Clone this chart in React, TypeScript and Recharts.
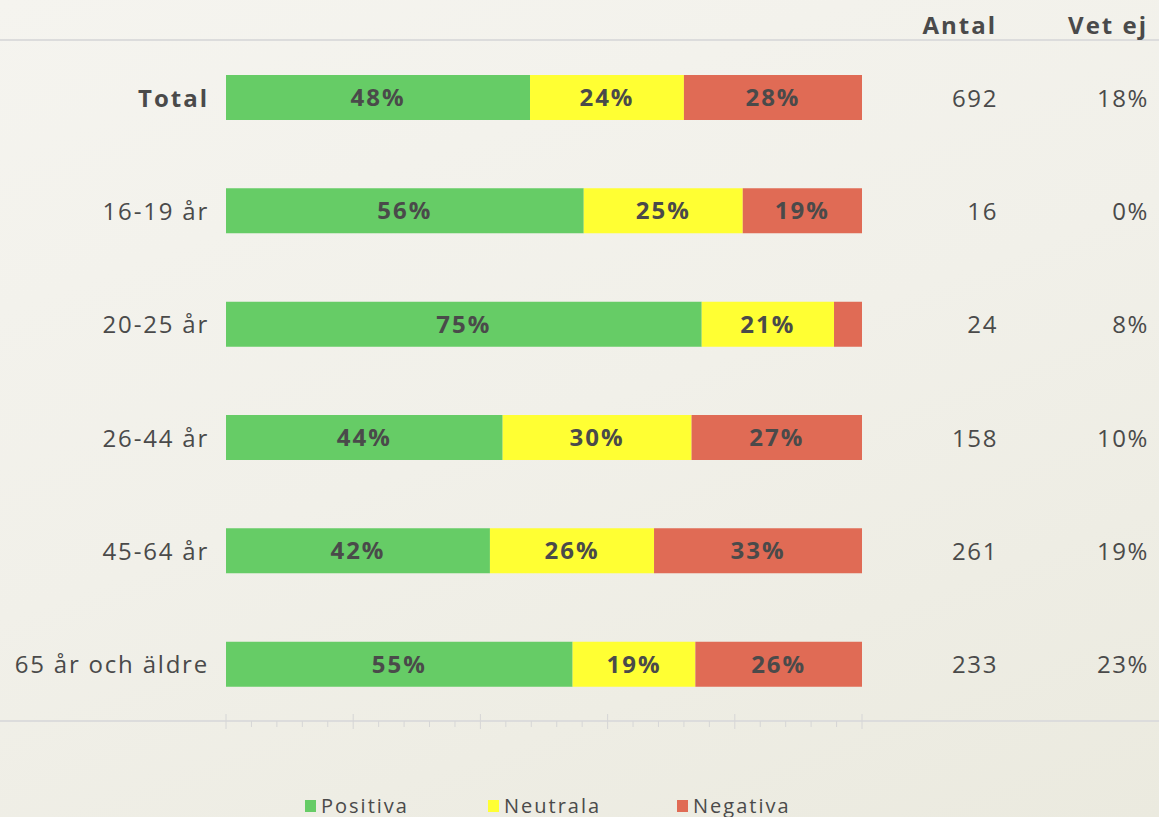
import { BarChart, Bar, XAxis, YAxis, LabelList } from 'recharts'

const CATEGORIES = ['Total', '16-19 år', '20-25 år', '26-44 år', '45-64 år', '65 år och äldre']
const POSITIVA = [47.8, 56.25, 74.8, 43.5, 41.5, 54.5]
const NEUTRALA = [24.2, 25, 20.8, 29.7, 25.8, 19.3]
const NEGATIVA = [28, 18.75, 4.4, 26.8, 32.7, 26.2]
const ANTAL = [692, 16, 24, 158, 261, 233]
const VET_EJ = ['18%', '0%', '8%', '10%', '19%', '23%']
const X_TICKS = Array.from({ length: 26 }, (_, i) => i * 4)

const SERIES = [
  { key: 'positiva', name: 'Positiva', color: '#66cc66' },
  { key: 'neutrala', name: 'Neutrala', color: '#ffff33' },
  { key: 'negativa', name: 'Negativa', color: '#e06b55' },
]

const TEXT = '#4a4a4a'
const FONT = '"Open Sans", sans-serif'

const data = CATEGORIES.map((name, i) => ({
  name,
  positiva: POSITIVA[i],
  neutrala: NEUTRALA[i],
  negativa: NEGATIVA[i],
  antal: ANTAL[i],
  vetEj: VET_EJ[i],
}))

function CategoryTick(props: any) {
  const { x, y, payload } = props
  const bold = payload.value === 'Total'
  return (
    <text
      x={x - 17}
      y={y}
      dy={9}
      textAnchor="end"
      fill={TEXT}
      fontSize={24}
      fontWeight={bold ? 700 : 400}
      letterSpacing={bold ? 2 : 1.8}
      fontFamily={FONT}
    >
      {payload.value}
    </text>
  )
}

function RightTick(props: any) {
  const { x, y, index } = props
  return (
    <g fill={TEXT} fontSize={24} fontFamily={FONT} letterSpacing={1.6}>
      <text x={x + 136} y={y} dy={9} textAnchor="end">{ANTAL[index]}</text>
      <text x={x + 287} y={y} dy={9} textAnchor="end">{VET_EJ[index]}</text>
    </g>
  )
}

function AxisTick(props: any) {
  const { x, y, payload } = props
  const major = payload.value % 20 === 0
  return major
    ? <line x1={x} x2={x} y1={y - 7} y2={y + 8} stroke="#d6d6d6" strokeWidth={1} />
    : <line x1={x} x2={x} y1={y} y2={y + 6} stroke="#d6d6d6" strokeWidth={1} />
}

const pctLabel = (v: any) => (Number(v) < 5 ? '' : `${Math.round(Number(v))}%`)

export default function App() {
  return (
    <div
      style={{
        position: 'absolute',
        left: 0,
        top: 0,
        width: 1159,
        height: 817,
        overflow: 'hidden',
        background: 'linear-gradient(160deg, #f5f4ef 0%, #f1f0e9 50%, #ebeadf 100%)',
        fontFamily: FONT,
      }}
    >
      <div style={{ position: 'absolute', left: 0, top: 39, width: 1159, height: 2, background: '#dcdcdc' }} />
      <div style={{ position: 'absolute', left: 0, top: 720, width: 1159, height: 2, background: '#dcdcdc' }} />
      <div style={{ position: 'absolute', right: 162, top: 8, fontSize: 24, fontWeight: 700, color: TEXT, letterSpacing: 2, lineHeight: '34px' }}>Antal</div>
      <div style={{ position: 'absolute', right: 11, top: 8, fontSize: 24, fontWeight: 700, color: TEXT, letterSpacing: 2, lineHeight: '34px' }}>Vet ej</div>
      <BarChart
        width={1159}
        height={817}
        data={data}
        layout="vertical"
        margin={{ top: 41, right: 0, bottom: 66, left: 0 }}
        barSize={45}
        style={{ position: 'absolute', left: 0, top: 0 }}
      >
        <XAxis
          type="number"
          domain={[0, 100]}
          ticks={X_TICKS}
          interval={0}
          axisLine={false}
          tickLine={false}
          tickSize={0}
          tickMargin={0}
          height={30}
          tick={<AxisTick />}
        />
        <YAxis
          yAxisId="left"
          type="category"
          dataKey="name"
          width={226}
          axisLine={false}
          tickLine={false}
          tickSize={0}
          tickMargin={0}
          tick={<CategoryTick />}
        />
        <YAxis
          yAxisId="right"
          orientation="right"
          type="category"
          dataKey="name"
          width={297}
          axisLine={false}
          tickLine={false}
          tickSize={0}
          tickMargin={0}
          tick={<RightTick />}
        />
        {SERIES.map(s => (
          <Bar
            key={s.key}
            dataKey={s.key}
            name={s.name}
            stackId="a"
            yAxisId="left"
            fill={s.color}
            isAnimationActive={false}
          >
            <LabelList
              dataKey={s.key}
              position="center"
              formatter={pctLabel}
              fill={TEXT}
              fontSize={24}
              fontWeight={700}
              fontFamily={FONT}
              letterSpacing={2}
            />
          </Bar>
        ))}
      </BarChart>
      <div
        style={{
          position: 'absolute',
          left: 0,
          top: 792,
          width: 1159,
          display: 'flex',
          color: TEXT,
          fontSize: 20,
          letterSpacing: 2,
          lineHeight: '28px',
        }}
      >
        {SERIES.map((s, i) => (
          <div
            key={s.key}
            style={{ position: 'absolute', left: [305, 488, 677][i], display: 'flex', alignItems: 'center' }}
          >
            <span style={{ display: 'inline-block', width: 11, height: 12, background: s.color, marginRight: 5 }} />
            {s.name}
          </div>
        ))}
      </div>
    </div>
  )
}
